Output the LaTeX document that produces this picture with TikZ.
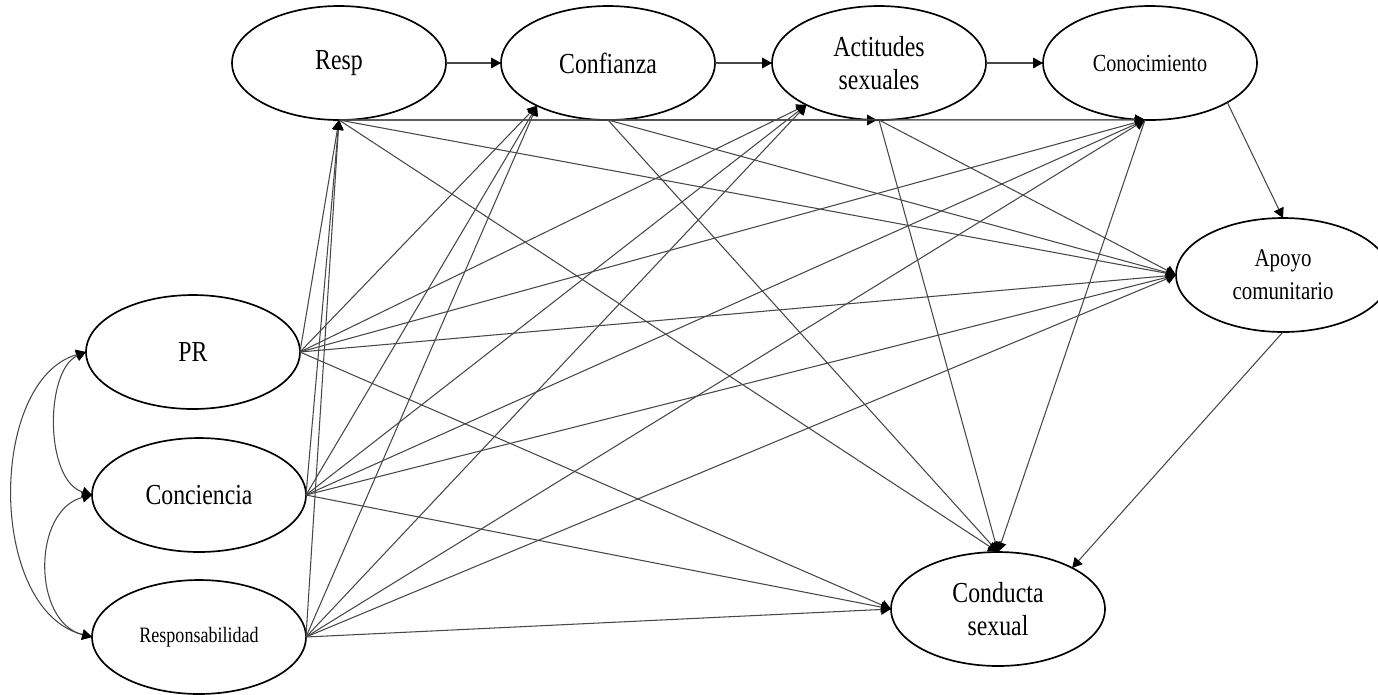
\documentclass[tikz,border=0pt]{standalone}
\usepackage{fontspec}
\setmainfont{Liberation Serif}[FakeStretch=0.82]
\usetikzlibrary{arrows.meta,shapes.geometric}

\begin{document}
\begin{tikzpicture}[
  x=0.02cm, y=-0.02cm,
  latent/.style={draw=black, line width=0.95pt, ellipse, inner sep=0pt, outer sep=0pt, minimum width=4.28cm, minimum height=2.28cm, align=center, font=\fontsize{16.5}{18.8}\selectfont},
  arr/.style={-{Triangle[length=5.6pt,width=6pt,color=black]}, line width=0.6pt, draw=black!72},
  cov/.style={{Triangle[length=5.6pt,width=6pt,color=black]}-{Triangle[length=5.6pt,width=6pt,color=black]}, line width=0.6pt, draw=black!72},
]
  \useasboundingbox (0,0) rectangle (1378,694);

  % top row
  \node[latent] (resp) at (339,63) {Resp};
  \node[latent] (conf) at (608,63) {Confianza};
  \node[latent] (acti) at (879,63) {Actitudes\\sexuales};
  \node[latent, font=\fontsize{14}{16}\selectfont] (cono) at (1150,63) {Conocimiento};
  % right side
  \node[latent, font=\fontsize{14.5}{18.8}\selectfont] (apoyo) at (1283,275) {Apoyo\\comunitario};
  \node[latent] (cond) at (998,609) {Conducta\\sexual};
  % exogenous
  \node[latent] (pr) at (193,352) {PR};
  \node[latent] (conc) at (199,495) {Conciencia};
  \node[latent, font=\fontsize{12.5}{15}\selectfont] (resb) at (199,637) {Responsabilidad};

  % covariances
  \draw[cov] (pr.west) .. controls +(-41,18) and +(-48,-15) .. (conc.west);
  \draw[cov] (conc.west) .. controls +(-60,15) and +(-60,-15) .. (resb.west);
  \draw[cov] (pr.west) .. controls +(-98,28) and +(-105,-27) .. (resb.west);

  % chain
  \draw[arr] (resp.east) -- (conf.west);
  \draw[arr] (conf.east) -- (acti.west);
  \draw[arr] (acti.east) -- (cono.west);

  % PR
  \draw[arr] (pr.east) -- (resp.south);
  \draw[arr] (pr.east) -- (conf.211);
  \draw[arr] (pr.east) -- (acti.210);
  \draw[arr] (pr.east) -- (cono.265);
  \draw[arr] (pr.east) -- (apoyo.west);
  \draw[arr] (pr.east) -- (cond.west);
  % Conciencia
  \draw[arr] (conc.east) -- (resp.south);
  \draw[arr] (conc.east) -- (conf.211);
  \draw[arr] (conc.east) -- (acti.210);
  \draw[arr] (conc.east) -- (cono.265);
  \draw[arr] (conc.east) -- (apoyo.west);
  \draw[arr] (conc.east) -- (cond.west);
  % Responsabilidad
  \draw[arr] (resb.east) -- (resp.south);
  \draw[arr] (resb.east) -- (conf.211);
  \draw[arr] (resb.east) -- (acti.210);
  \draw[arr] (resb.east) -- (cono.265);
  \draw[arr] (resb.east) -- (apoyo.west);
  \draw[arr] (resb.east) -- (cond.west);

  % mediators
  \draw[arr] (resp.south) -- (acti.268);
  \draw[arr] (resp.south) -- (cono.265);
  \draw[arr] (resp.south) -- (apoyo.west);
  \draw[arr] (resp.south) -- (cond.north);
  \draw[arr] (conf.south) -- (cono.265);
  \draw[arr] (conf.south) -- (apoyo.west);
  \draw[arr] (conf.south) -- (cond.north);
  \draw[arr] (acti.south) -- (apoyo.west);
  \draw[arr] (acti.south) -- (cond.north);
  \draw[arr] (cono.265) -- (cond.north);
  \draw[arr] (cono.-27) -- (apoyo.north);
  \draw[arr] (apoyo.south) -- (cond.29);
\end{tikzpicture}
\end{document}
